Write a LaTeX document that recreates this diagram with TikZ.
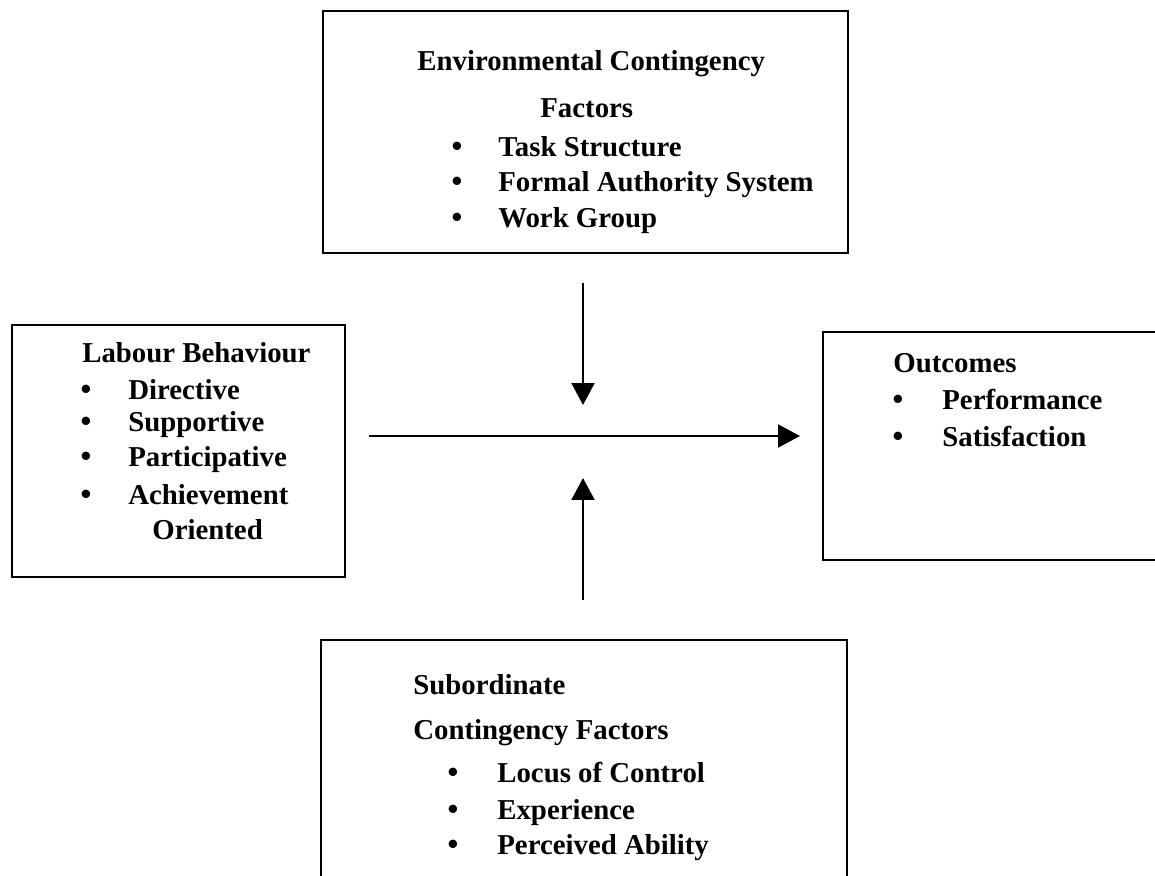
\documentclass[tikz,border=0pt]{standalone}
\usepackage{fontspec}
\setmainfont{Liberation Serif}
\usetikzlibrary{arrows.meta}

\begin{document}
\begin{tikzpicture}[x=0.02cm,y=-0.02cm,
  box/.style={draw,rectangle,line width=1.4pt,inner sep=0pt},
  txt/.style={anchor=base west,inner sep=0pt,font=\bfseries\fontsize{16.4}{20}\selectfont},
  dot/.style={anchor=base,inner sep=0pt,font=\bfseries\fontsize{17.5}{20}\selectfont},
  arr/.style={line width=1.5pt,-{Triangle[length=12.5pt,width=13pt]}}]
  \useasboundingbox (0,0) rectangle (1155,875);

  \node (Env) at (585.5,132) [box,minimum width=10.5cm,minimum height=4.84cm] {};
  \node (Lab) at (178.5,451) [box,minimum width=6.66cm,minimum height=5.04cm] {};
  \node (Out) at (995,446) [box,minimum width=6.88cm,minimum height=4.56cm] {};
  \node (Sub) at (584,765) [box,minimum width=10.52cm,minimum height=5cm] {};

% environmental factors
  \node (E0) at (417,71) [txt] {Environmental Contingency};
  \node (E1) at (540,117) [txt] {Factors};
  \node (Eb1) at (457,156) [dot] {\textbullet};
  \node (Eb2) at (457,191) [dot] {\textbullet};
  \node (Eb3) at (457,227) [dot] {\textbullet};
  \node (E2) at (498,156) [txt] {Task Structure};
  \node (E3) at (498,191) [txt] {Formal Authority System};
  \node (E4) at (498,227) [txt] {Work Group};

% labour behaviour
  \node (L0) at (82,362) [txt] {Labour Behaviour};
  \node (Lb1) at (86,399) [dot] {\textbullet};
  \node (Lb2) at (86,431) [dot] {\textbullet};
  \node (Lb3) at (86,466) [dot] {\textbullet};
  \node (Lb4) at (86,504) [dot] {\textbullet};
  \node (L1) at (128,399) [txt] {Directive};
  \node (L2) at (128,431) [txt] {Supportive};
  \node (L3) at (128,466) [txt] {Participative};
  \node (L4) at (128,504) [txt] {Achievement};
  \node (L5) at (152,539) [txt] {Oriented};

% outcomes
  \node (O0) at (893,372) [txt] {Outcomes};
  \node (Ob1) at (898,409) [dot] {\textbullet};
  \node (Ob2) at (898,446) [dot] {\textbullet};
  \node (O1) at (942,409) [txt] {Performance};
  \node (O2) at (942,446) [txt] {Satisfaction};

% subordinate factors
  \node (S0) at (413,694) [txt] {Subordinate};
  \node (S1) at (413,739) [txt] {Contingency Factors};
  \node (Sb1) at (453,782) [dot] {\textbullet};
  \node (Sb2) at (453,819) [dot] {\textbullet};
  \node (Sb3) at (453,854) [dot] {\textbullet};
  \node (S2) at (497,782) [txt] {Locus of Control};
  \node (S3) at (497,819) [txt] {Experience};
  \node (S4) at (497,854) [txt] {Perceived Ability};

  \coordinate (T1) at (583,283);
  \coordinate (T2) at (583,405);
  \coordinate (H1) at (369,436);
  \coordinate (H2) at (800,436);
  \coordinate (B1) at (583,600);
  \coordinate (B2) at (583,478);

  \draw[arr] (T1) -- (T2);
  \draw[arr] (H1) -- (H2);
  \draw[arr] (B1) -- (B2);

\end{tikzpicture}
\end{document}
